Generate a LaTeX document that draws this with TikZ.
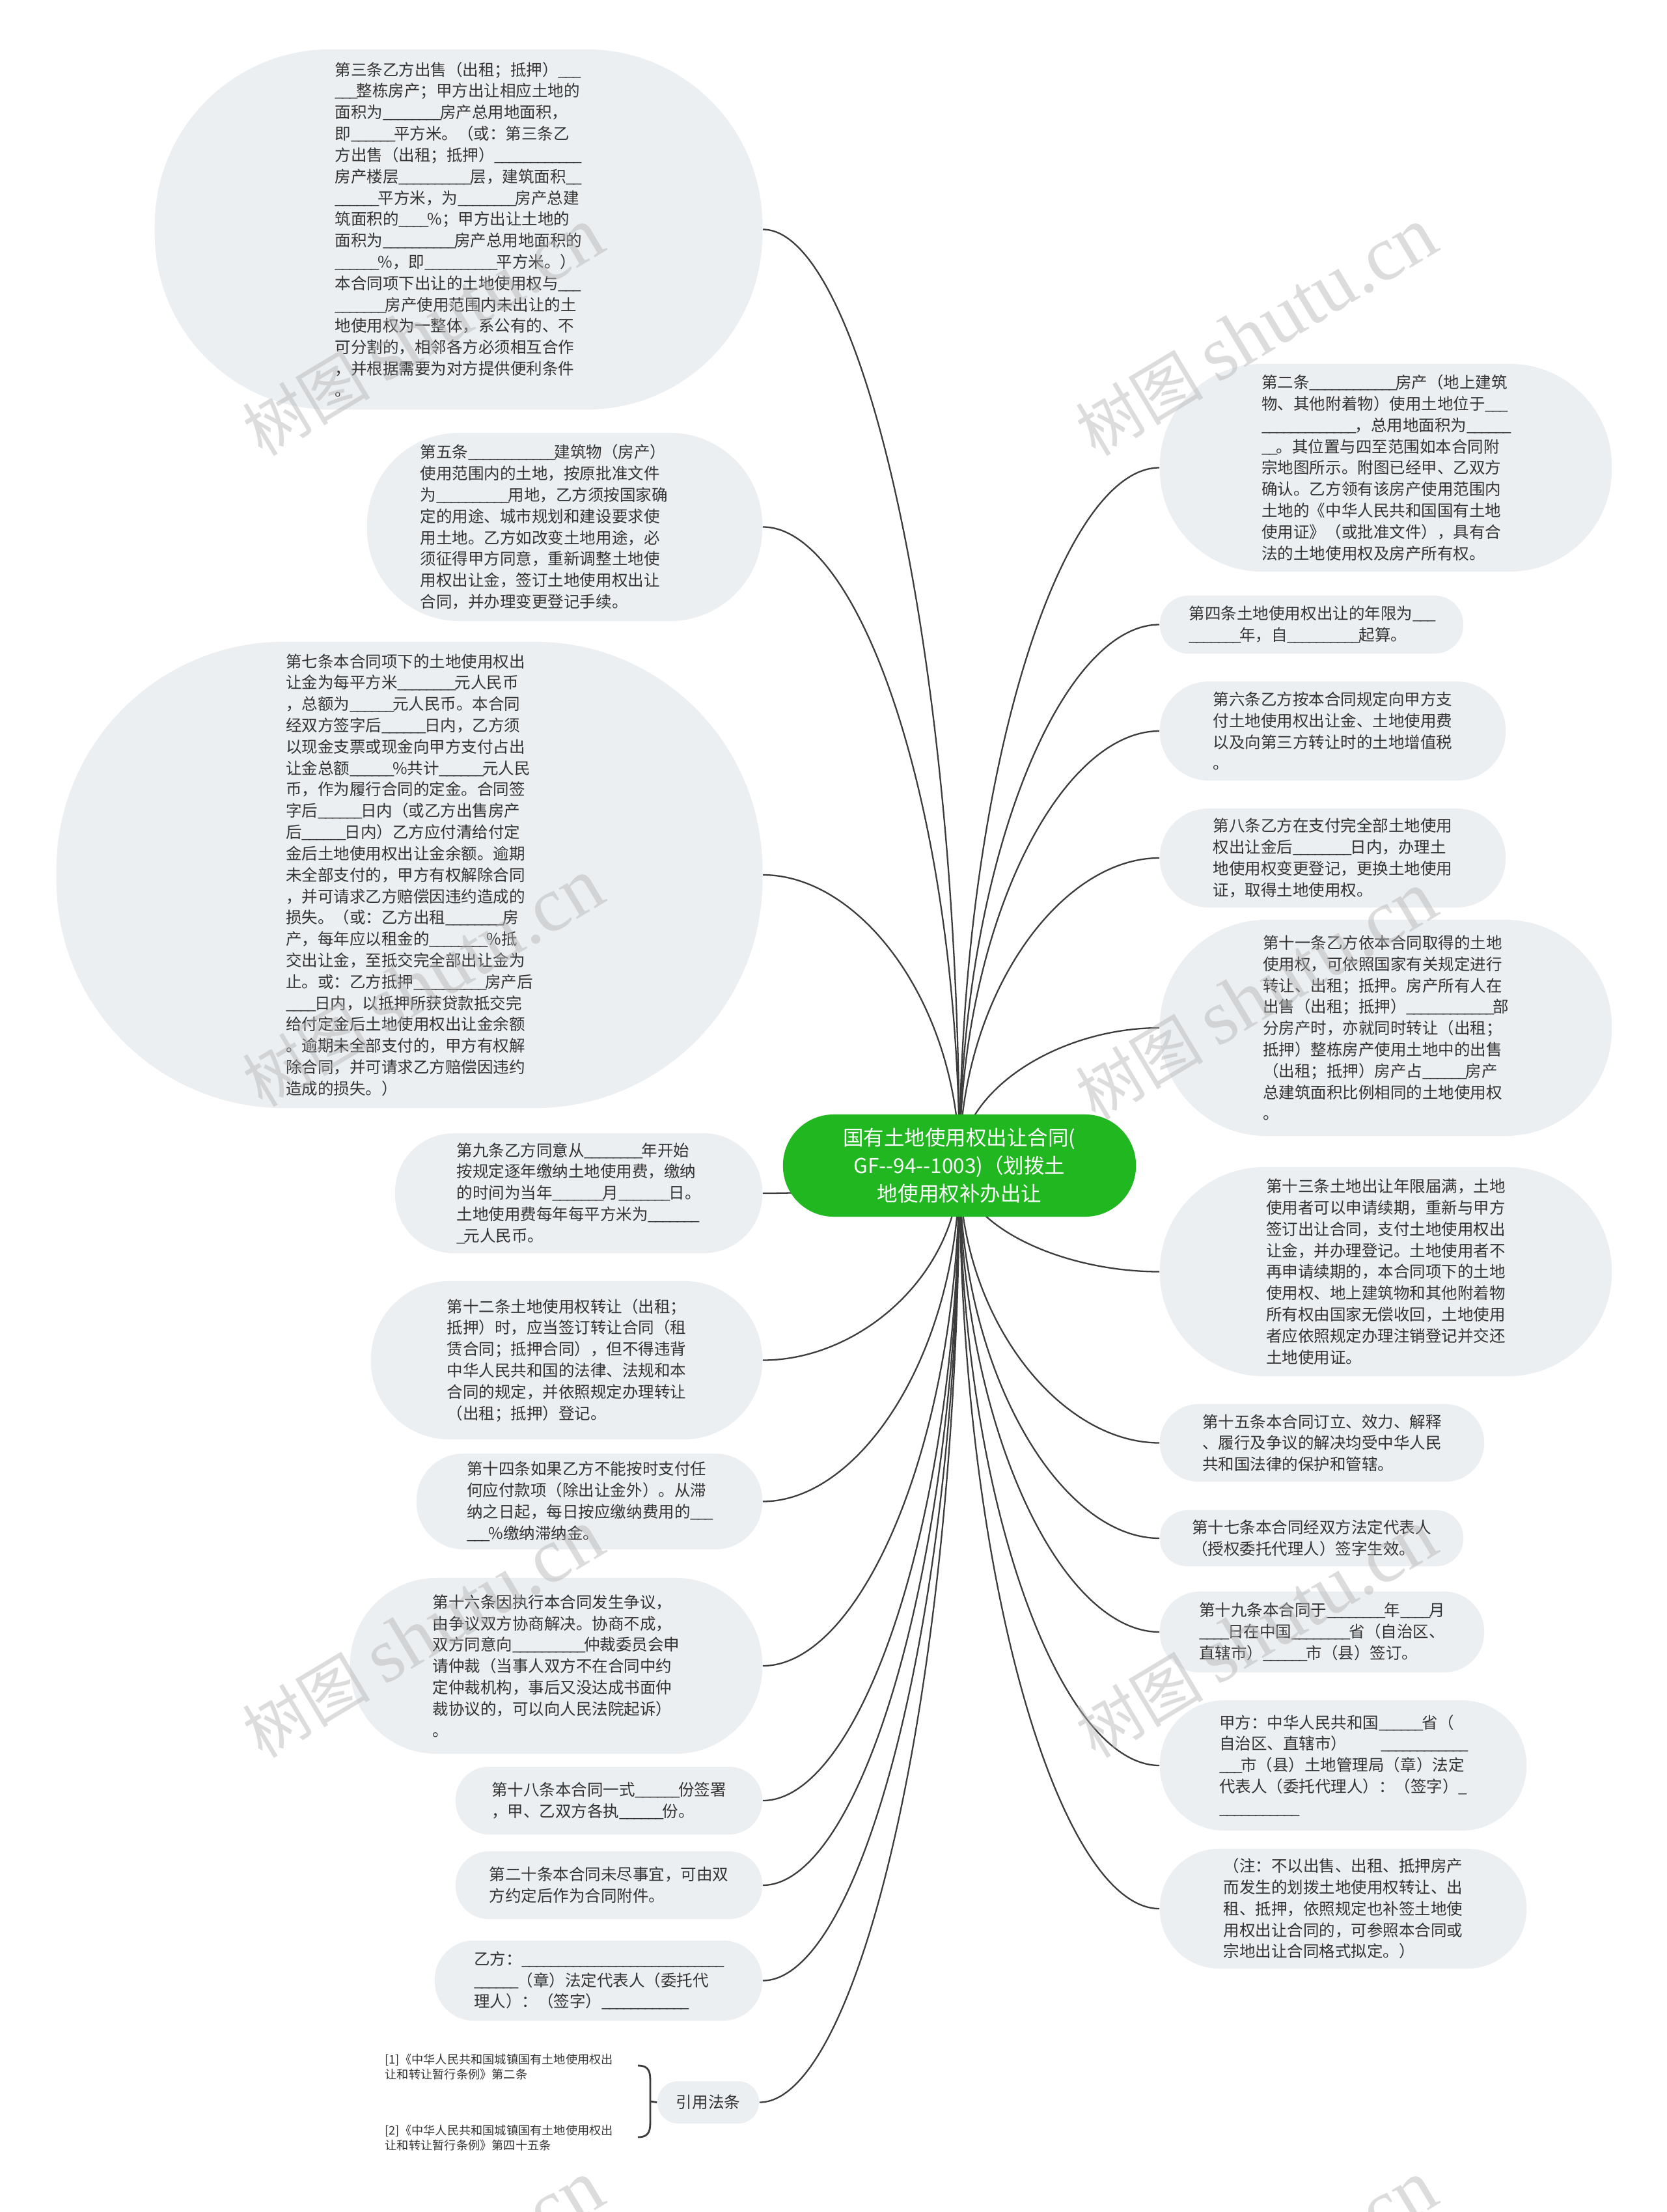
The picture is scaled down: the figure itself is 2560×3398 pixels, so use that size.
\documentclass[tikz,border=0pt]{standalone}
\usepackage{fontspec}
\newfontfamily\cjk{Noto Sans CJK SC}
\newfontfamily\wmlat{Liberation Serif}
\usetikzlibrary{calc}
\ExplSyntaxOn
\cs_new:Npn \ublank #1 {\prg_replicate:nn {#1} {\makebox[0.45em][l]{\_}}}
\ExplSyntaxOff
\definecolor{bubfill}{RGB}{236,239,242}
\definecolor{txt}{RGB}{51,51,51}
\definecolor{linegray}{RGB}{60,60,60}
\definecolor{rootgreen}{RGB}{33,183,33}
\pgfdeclarelayer{bg}
\pgfsetlayers{bg,main}
\newcommand\linkto[2]{\draw[conn] (#1) .. controls ($(#1)!0.55!(#1 |- #2)$) and ($(#2)!0.5!(#1 |- #2)$) .. (#2);}
\tikzset{
  bub/.style={fill=bubfill, text=txt, align=left, inner sep=0pt, font=\cjk\fontsize{6.97pt}{9.33pt}\selectfont},
  rootnode/.style={fill=rootgreen, text=white, align=center, inner sep=0pt, font=\cjk\fontsize{8.96pt}{12.2pt}\selectfont},
  reff/.style={text=txt, align=left, inner sep=0pt, font=\cjk\fontsize{5.18pt}{6.8pt}\selectfont},
  conn/.style={draw=linegray, line width=0.65pt},
  bracel/.style={draw=linegray, line width=0.8pt},
  wm/.style={rotate=31, text=gray!60, opacity=0.45, inner sep=0pt},
}
\begin{document}
\begin{tikzpicture}[x=0.01cm,y=-0.01cm]
\path[use as bounding box] (0,0) rectangle (2560,3398);
\begin{pgfonlayer}{bg}
\fill[white] (0,0) rectangle (2560,3398);
\end{pgfonlayer}
\clip (0,0) rectangle (2560,3398);

% root
\node[rootnode, rounded corners=0.78cm, minimum width=5.42cm, minimum height=1.57cm] (root) at (1474,1790.5) {国有土地使用权出让合同(\\GF--94--1003)（划拨土\\地使用权补办出让};

% left side
\node[bub, rounded corners=2.7cm, minimum width=9.33cm, minimum height=5.53cm] (c3) at (704.5,352.5) {第三条乙方出售（出租；抵押）\ublank{3}\\\ublank{3}整栋房产；甲方出让相应土地的\\面积为\ublank{8}房产总用地面积，\\即\ublank{6}平方米。（或：第三条乙\\方出售（出租；抵押）\ublank{12}\\房产楼层\ublank{10}层，建筑面积\ublank{2}\\\ublank{6}平方米，为\ublank{8}房产总建\\筑面积的\ublank{4}\%；甲方出让土地的\\面积为\ublank{10}房产总用地面积的\\\ublank{6}\%，即\ublank{10}平方米。）\\本合同项下出让的土地使用权与\ublank{3}\\\ublank{7}房产使用范围内未出让的土\\地使用权为一整体，系公有的、不\\可分割的，相邻各方必须相互合作\\，并根据需要为对方提供便利条件\\。};

\node[bub, text width=4.43cm, rounded corners=1.42cm, minimum width=6.07cm, minimum height=2.89cm] (c5) at (867.5,809.5) {第五条\ublank{12}建筑物（房产）\\使用范围内的土地，按原批准文件\\为\ublank{10}用地，乙方须按国家确\\定的用途、城市规划和建设要求使\\用土地。乙方如改变土地用途，必\\须征得甲方同意，重新调整土地使\\用权出让金，签订土地使用权出让\\合同，并办理变更登记手续。};

\node[bub, rounded corners=3.5cm, minimum width=10.84cm, minimum height=7.16cm] (c7) at (629,1344) {第七条本合同项下的土地使用权出\\让金为每平方米\ublank{8}元人民币\\，总额为\ublank{6}元人民币。本合同\\经双方签字后\ublank{6}日内，乙方须\\以现金支票或现金向甲方支付占出\\让金总额\ublank{6}\%共计\ublank{6}元人民\\币，作为履行合同的定金。合同签\\字后\ublank{6}日内（或乙方出售房产\\后\ublank{6}日内）乙方应付清给付定\\金后土地使用权出让金余额。逾期\\未全部支付的，甲方有权解除合同\\，并可请求乙方赔偿因违约造成的\\损失。（或：乙方出租\ublank{8}房\\产，每年应以租金的\ublank{8}\%抵\\交出让金，至抵交完全部出让金为\\止。或：乙方抵押\ublank{10}房产后\\\ublank{4}日内，以抵押所获贷款抵交完\\给付定金后土地使用权出让金余额\\。逾期未全部支付的，甲方有权解\\除合同，并可请求乙方赔偿因违约\\造成的损失。）};

\node[bub, rounded corners=0.9cm, minimum width=5.64cm, minimum height=1.84cm] (c9) at (889,1833) {第九条乙方同意从\ublank{8}年开始\\按规定逐年缴纳土地使用费，缴纳\\的时间为当年\ublank{7}月\ublank{7}日。\\土地使用费每年每平方米为\ublank{7}\\\ublank{1}元人民币。};

\node[bub, rounded corners=1.2cm, minimum width=6.01cm, minimum height=2.43cm] (c12) at (870.5,2089.5) {第十二条土地使用权转让（出租；\\抵押）时，应当签订转让合同（租\\赁合同；抵押合同），但不得违背\\中华人民共和国的法律、法规和本\\合同的规定，并依照规定办理转让\\（出租；抵押）登记。};

\node[bub, rounded corners=0.72cm, minimum width=5.31cm, minimum height=1.47cm] (c14) at (905.5,2306.5) {第十四条如果乙方不能按时支付任\\何应付款项（除出让金外）。从滞\\纳之日起，每日按应缴纳费用的\ublank{3}\\\ublank{3}\%缴纳滞纳金。};

\node[bub, rounded corners=1.33cm, minimum width=6.33cm, minimum height=2.70cm] (c16) at (854.5,2559) {第十六条因执行本合同发生争议，\\由争议双方协商解决。协商不成，\\双方同意向\ublank{10}仲裁委员会申\\请仲裁（当事人双方不在合同中约\\定仲裁机构，事后又没达成书面仲\\裁协议的，可以向人民法院起诉）\\。};

\node[bub, rounded corners=0.51cm, minimum width=4.71cm, minimum height=1.04cm] (c18) at (935.5,2766) {第十八条本合同一式\ublank{6}份签署\\，甲、乙双方各执\ublank{6}份。};

\node[bub, rounded corners=0.51cm, minimum width=4.71cm, minimum height=1.04cm] (c20) at (935.5,2896) {第二十条本合同未尽事宜，可由双\\方约定后作为合同附件。};

\node[bub, rounded corners=0.6cm, minimum width=5.03cm, minimum height=1.23cm] (cy) at (919.5,3042.5) {乙方：\ublank{28}\\\ublank{6}（章）法定代表人（委托代\\理人）：（签字）\ublank{12}};

\node[bub, align=center, rounded corners=0.32cm, minimum width=1.56cm, minimum height=0.65cm] (cite) at (1088,3229.5) {引用法条};

\node[reff, anchor=west] (r1) at (591,3175) {[1]《中华人民共和国城镇国有土地使用权出\\让和转让暂行条例》第二条};
\node[reff, anchor=west] (r2) at (591,3284) {[2]《中华人民共和国城镇国有土地使用权出\\让和转让暂行条例》第四十五条};

% right side
\node[bub, rounded corners=1.57cm, minimum width=6.94cm, minimum height=3.19cm] (c2) at (2129,718.5) {第二条\ublank{12}房产（地上建筑\\物、其他附着物）使用土地位于\ublank{3}\\\ublank{13}，总用地面积为\ublank{6}\\\ublank{2}。其位置与四至范围如本合同附\\宗地图所示。附图已经甲、乙双方\\确认。乙方领有该房产使用范围内\\土地的《中华人民共和国国有土地\\使用证》（或批准文件），具有合\\法的土地使用权及房产所有权。};

\node[bub, rounded corners=0.44cm, minimum width=4.66cm, minimum height=0.89cm] (c4) at (2015,959.5) {第四条土地使用权出让的年限为\ublank{3}\\\ublank{7}年，自\ublank{10}起算。};

\node[bub, rounded corners=0.75cm, minimum width=5.31cm, minimum height=1.52cm] (c6) at (2047.5,1123) {第六条乙方按本合同规定向甲方支\\付土地使用权出让金、土地使用费\\以及向第三方转让时的土地增值税\\。};

\node[bub, rounded corners=0.75cm, minimum width=5.31cm, minimum height=1.52cm] (c8) at (2047.5,1318) {第八条乙方在支付完全部土地使用\\权出让金后\ublank{8}日内，办理土\\地使用权变更登记，更换土地使用\\证，取得土地使用权。};

\node[bub, rounded corners=1.64cm, minimum width=6.94cm, minimum height=3.32cm] (c11) at (2129,1579) {第十一条乙方依本合同取得的土地\\使用权，可依照国家有关规定进行\\转让、出租；抵押。房产所有人在\\出售（出租；抵押）\ublank{12}部\\分房产时，亦就同时转让（出租；\\抵押）整栋房产使用土地中的出售\\（出租；抵押）房产占\ublank{6}房产\\总建筑面积比例相同的土地使用权\\。};

\node[bub, rounded corners=1.6cm, minimum width=6.94cm, minimum height=3.21cm] (c13) at (2129,1953.5) {第十三条土地出让年限届满，土地\\使用者可以申请续期，重新与甲方\\签订出让合同，支付土地使用权出\\让金，并办理登记。土地使用者不\\再申请续期的，本合同项下的土地\\使用权、地上建筑物和其他附着物\\所有权由国家无偿收回，土地使用\\者应依照规定办理注销登记并交还\\土地使用证。};

\node[bub, rounded corners=0.59cm, minimum width=4.98cm, minimum height=1.19cm] (c15) at (2031,2216.5) {第十五条本合同订立、效力、解释\\、履行及争议的解决均受中华人民\\共和国法律的保护和管辖。};

\node[bub, rounded corners=0.42cm, minimum width=4.66cm, minimum height=0.86cm] (c17) at (2015,2363) {第十七条本合同经双方法定代表人\\（授权委托代理人）签字生效。};

\node[bub, rounded corners=0.61cm, minimum width=4.98cm, minimum height=1.24cm] (c19) at (2031,2507) {第十九条本合同于\ublank{8}年\ublank{4}月\\\ublank{4}日在中国\ublank{8}省（自治区、\\直辖市）\ublank{6}市（县）签订。};

\node[bub, rounded corners=0.99cm, minimum width=5.63cm, minimum height=2.00cm] (cjia) at (2063.5,2712) {甲方：中华人民共和国\ublank{6}省（\\自治区、直辖市）\hspace{0.52cm}\ublank{12}\\\ublank{3}市（县）土地管理局（章）法定\\代表人（委托代理人）：（签字）\ublank{1}\\\ublank{11}};

\node[bub, rounded corners=0.91cm, minimum width=5.63cm, minimum height=1.84cm] (cnote) at (2063.5,2932) {（注：不以出售、出租、抵押房产\\而发生的划拨土地使用权转让、出\\租、抵押，依照规定也补签土地使\\用权出让合同的，可参照本合同或\\宗地出让合同格式拟定。）};

% connectors
\begin{pgfonlayer}{bg}
\linkto{root.center}{c3.east}
\linkto{root.center}{c5.east}
\linkto{root.center}{c7.east}
\linkto{root.center}{c9.east}
\linkto{root.center}{c12.east}
\linkto{root.center}{c14.east}
\linkto{root.center}{c16.east}
\linkto{root.center}{c18.east}
\linkto{root.center}{c20.east}
\linkto{root.center}{cy.east}
\linkto{root.center}{cite.east}
\linkto{root.center}{c2.west}
\linkto{root.center}{c4.west}
\linkto{root.center}{c6.west}
\linkto{root.center}{c8.west}
\linkto{root.center}{c11.west}
\linkto{root.center}{c13.west}
\linkto{root.center}{c15.west}
\linkto{root.center}{c17.west}
\linkto{root.center}{c19.west}
\linkto{root.center}{cjia.west}
\linkto{root.center}{cnote.west}
\end{pgfonlayer}

% brace for cited laws
\coordinate (bt) at (980,3173);
\coordinate (bb) at (980,3283);
\coordinate (bm) at (999,3228);
\draw[bracel] (bt) .. controls (999,3173) and (999,3185) .. (999,3200) -- (999,3256) .. controls (999,3271) and (999,3283) .. (bb);
\draw[bracel] (bm) -- (cite.west);

% watermarks
\foreach \wx/\wy [count=\wi] in {650/510,1930/510,650/1510,1930/1530,650/2510,1930/2510,650/3510,1930/3510}
  \node[wm, font=\cjk\fontsize{28pt}{30pt}\selectfont] (wm\wi) at (\wx,\wy) {树图 {\wmlat\fontsize{34pt}{36pt}\selectfont shutu.cn}};
\end{tikzpicture}
\end{document}
